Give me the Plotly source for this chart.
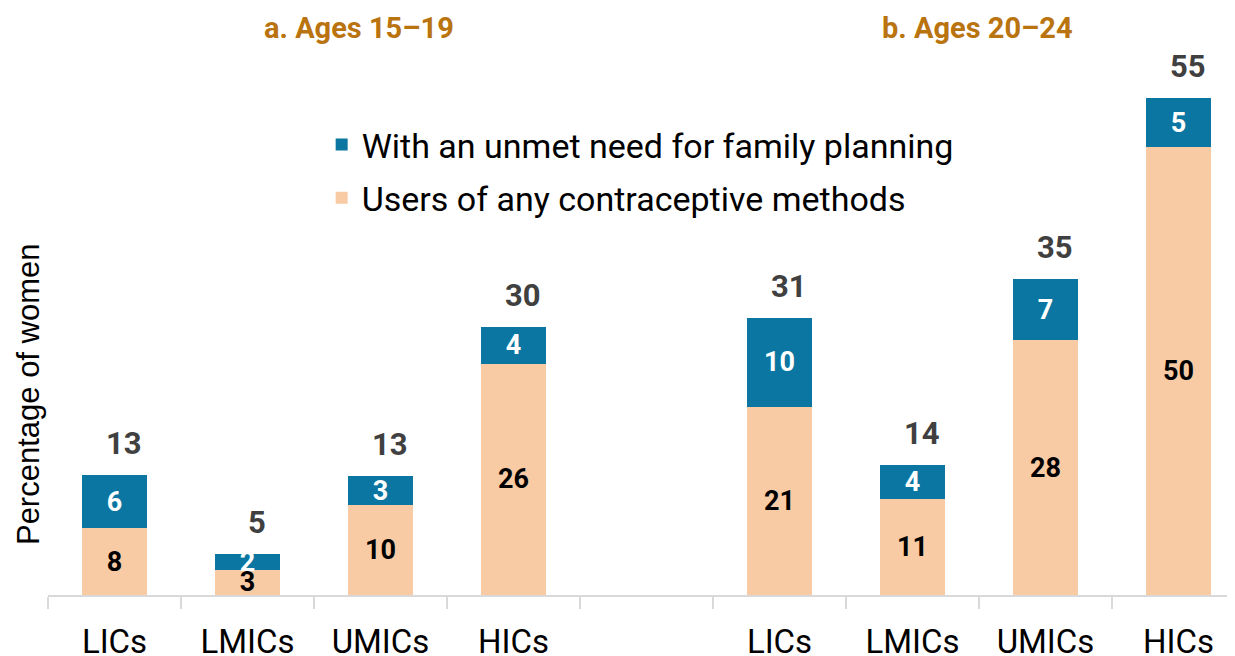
import plotly.graph_objects as go

# income groups, shown once per age panel
groups = ["LICs", "LMICs", "UMICs", "HICs"]
panel_titles = ["a. Ages 15–19", "b. Ages 20–24"]

# values (percentage of women)
users_15_19 = [7.4, 2.8, 10.0, 25.7]
unmet_15_19 = [5.9, 1.8, 3.2, 4.1]
users_20_24 = [20.9, 10.7, 28.3, 49.8]
unmet_20_24 = [9.9, 3.8, 6.8, 5.4]

# labels as printed in the source
users_labels = ["8", "3", "10", "26", "21", "11", "28", "50"]
unmet_labels = ["6", "2", "3", "4", "10", "4", "7", "5"]
total_labels = ["13", "5", "13", "30", "31", "14", "35", "55"]

BLUE = "#0a76a1"
PEACH = "#f9cba4"
GOLD = "#b97410"

# one empty slot between the two panels
x_pos = list(range(len(groups))) + [len(groups) + 1 + i for i in range(len(groups))]
users = users_15_19 + users_20_24
unmet = unmet_15_19 + unmet_20_24
totals = [u + n for u, n in zip(users, unmet)]

fig = go.Figure()
fig.add_trace(go.Bar(
    x=x_pos, y=users, name="Users of any contraceptive methods",
    marker=dict(color=PEACH, line=dict(width=0)),
    text=users_labels, textposition="inside", insidetextanchor="middle", textangle=0,
    textfont=dict(family="Roboto", size=27, color="black", weight="bold"),
    width=0.49, legendgroup="users", legendrank=2, hoverinfo="skip",
))
fig.add_trace(go.Bar(
    x=x_pos, y=unmet, name="With an unmet need for family planning",
    marker=dict(color=BLUE, line=dict(width=0)),
    text=unmet_labels, textposition="inside", insidetextanchor="middle", textangle=0,
    textfont=dict(family="Roboto", size=27, color="white", weight="bold"),
    width=0.49, legendgroup="unmet", legendrank=1, hoverinfo="skip",
))

# totals above each stack
for xp, tot, lab in zip(x_pos, totals, total_labels):
    fig.add_annotation(
        x=xp, y=tot, text=lab, showarrow=False, yanchor="bottom",
        yshift=11, xshift=9,
        font=dict(family="Roboto", size=31, color="#404040", weight="bold"),
    )

# panel titles
for px_x, title in zip([0.26, 0.778], panel_titles):
    fig.add_annotation(
        x=px_x, y=1.05, xref="paper", yref="paper",
        xanchor="center", yanchor="middle",
        text=title, showarrow=False,
        font=dict(family="Roboto", size=29, color=GOLD, weight="bold"),
    )

# y-axis title
fig.add_annotation(
    x=-0.0168, y=0.372, xref="paper", yref="paper", textangle=-90,
    xanchor="center", yanchor="middle", showarrow=False,
    text="Percentage of women",
    font=dict(family="Liberation Sans, Arial", size=31, color="black"),
)

boundaries = [i - 0.5 for i in range(2 * len(groups) + 2)]
fig.update_layout(
    width=1235, height=656,
    margin=dict(l=40, r=0, t=47, b=69, autoexpand=False),
    barmode="stack",
    plot_bgcolor="white", paper_bgcolor="white",
    uniformtext=dict(minsize=27, mode="show"),
    showlegend=True,
    legend=dict(
        x=0.229, y=0.887, xanchor="left", yanchor="top",
        traceorder="grouped", tracegroupgap=6,
        font=dict(family="Roboto", size=34, color="black"),
        bgcolor="rgba(0,0,0,0)",
    ),
    xaxis=dict(
        range=[-0.5, 8.485], automargin=False,
        tickvals=x_pos, ticktext=groups + groups,
        ticks="", showline=True, linecolor="#d9d9d9", linewidth=2,
        ticklabelstandoff=16,
        tickfont=dict(family="Roboto", size=33, color="black"),
        showgrid=False, zeroline=False,
        minor=dict(tickvals=boundaries, ticks="outside", ticklen=12,
                   tickcolor="#d9d9d9", tickwidth=2, showgrid=False),
    ),
    yaxis=dict(
        range=[0, 60], showticklabels=False, showgrid=False,
        zeroline=False, showline=False, automargin=False,
    ),
)

fig.write_html("out.html")
